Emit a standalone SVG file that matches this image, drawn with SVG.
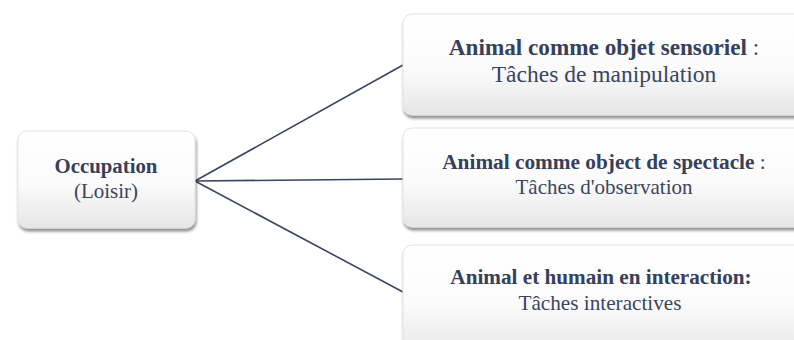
<svg xmlns="http://www.w3.org/2000/svg" width="794" height="340" viewBox="0 0 794 340">
<defs>
<linearGradient id="g" x1="0" y1="0" x2="0" y2="1">
<stop offset="0" stop-color="#ffffff"/>
<stop offset="0.55" stop-color="#fbfbfb"/>
<stop offset="1" stop-color="#e6e6e6"/>
</linearGradient>
<filter id="sh" x="-10%" y="-10%" width="125%" height="130%">
<feGaussianBlur in="SourceAlpha" stdDeviation="1.6"/>
<feOffset dx="1" dy="3" result="b"/>
<feComponentTransfer><feFuncA type="linear" slope="0.45"/></feComponentTransfer>
<feMerge><feMergeNode/><feMergeNode in="SourceGraphic"/></feMerge>
</filter>
</defs>
<style>
.box{fill:url(#g);stroke:#e2e2e2;stroke-width:1;filter:url(#sh)}
.t{font-family:"Liberation Serif","Times New Roman",serif;fill:#3b4560;text-anchor:middle}
.b{font-weight:bold;fill:#36405a}
.l{stroke:#3b4560;stroke-width:1.6;fill:none}
</style>
<g id="connectors">
<line class="l" x1="195" y1="181" x2="403" y2="65"/>
<line class="l" x1="195" y1="181" x2="403" y2="179"/>
<line class="l" x1="195" y1="181" x2="403" y2="292"/>
</g>
<g id="occupation">
<rect class="box" x="18" y="131" width="177" height="97" rx="9"/>
<text class="t b" x="106" y="173" font-size="20.8">Occupation</text>
<text class="t" x="106" y="198" font-size="21">(Loisir)</text>
</g>
<g id="sensoriel">
<rect class="box" x="403" y="14" width="400" height="101" rx="9"/>
<text class="t" x="604" y="55" font-size="23.2"><tspan class="b">Animal comme objet sensoriel</tspan> :</text>
<text class="t" x="604" y="82" font-size="23.5">Tâches de manipulation</text>
</g>
<g id="spectacle">
<rect class="box" x="403" y="128" width="400" height="99" rx="9"/>
<text class="t" x="604" y="169" font-size="21.3"><tspan class="b">Animal comme object de spectacle</tspan> :</text>
<text class="t" x="604" y="194" font-size="21">Tâches d'observation</text>
</g>
<g id="interaction">
<rect class="box" x="403" y="245" width="400" height="110" rx="9"/>
<text class="t b" x="601" y="284" font-size="21.2">Animal et humain en interaction:</text>
<text class="t" x="600" y="310" font-size="21.2">Tâches interactives</text>
</g>
</svg>
